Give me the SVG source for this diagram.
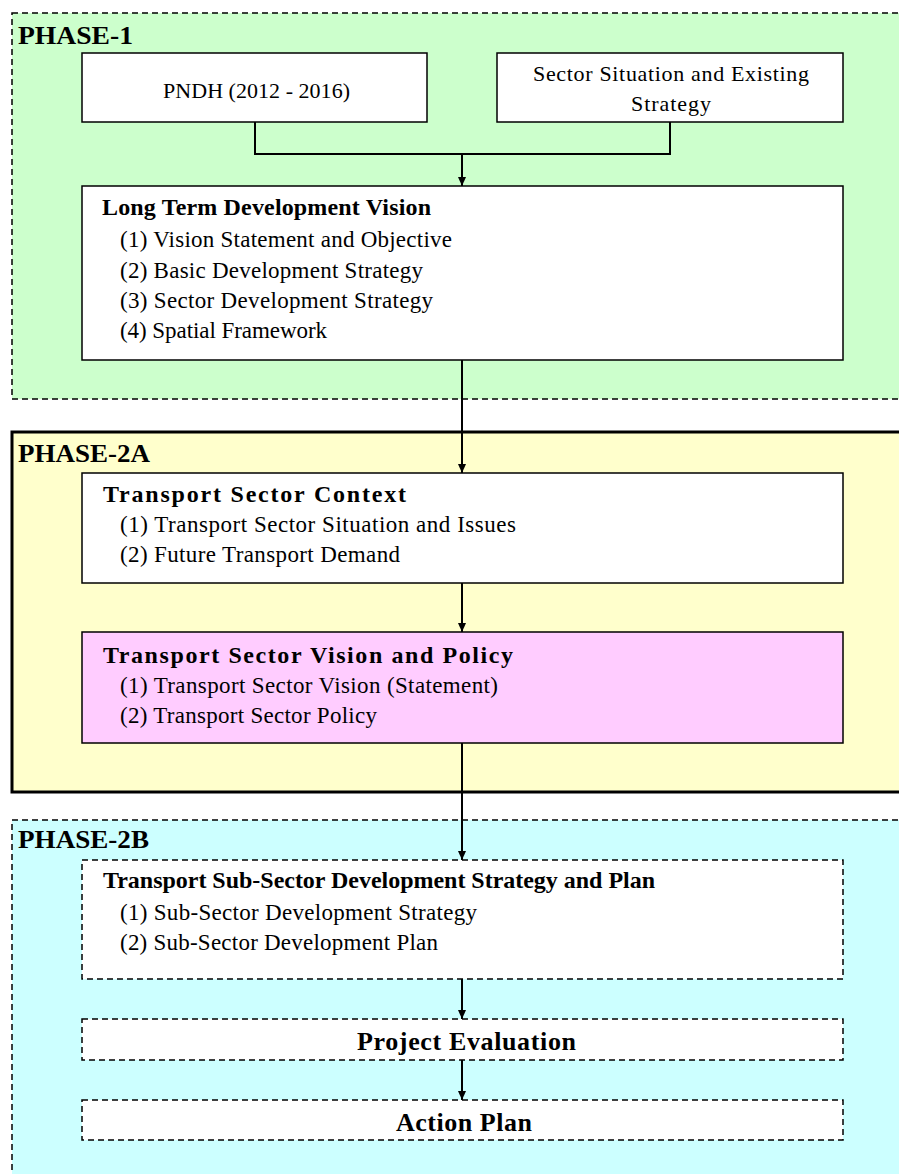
<svg xmlns="http://www.w3.org/2000/svg" width="899" height="1174" viewBox="0 0 899 1174">
<defs>
<marker id="ah" markerWidth="10" markerHeight="10" refX="9" refY="4.5" orient="auto" markerUnits="userSpaceOnUse">
<path d="M0,0.5 L9,4.5 L0,8.5 Z" fill="#000"/>
</marker>
<style>
.ph{font-family:"Liberation Serif",serif;font-weight:bold;font-size:26px;fill:#000}
.tt{font-family:"Liberation Serif",serif;font-weight:bold;font-size:24px;fill:#000}
.bt{font-family:"Liberation Serif",serif;font-weight:bold;font-size:26px;fill:#000}
.it{font-family:"Liberation Serif",serif;font-size:23px;fill:#000}
.sm{font-family:"Liberation Serif",serif;font-size:22px;fill:#000}
.box{fill:#fff;stroke:#000;stroke-width:1.5}
.dbox{fill:#fff;stroke:#000;stroke-width:1.5;stroke-dasharray:6,4}
.con{fill:none;stroke:#000;stroke-width:2}
</style>
</defs>
<g id="phase1">
<rect x="12" y="13" width="900" height="386" fill="#CCFFCC" stroke="#000" stroke-width="1.5" stroke-dasharray="6,4"/>
<text class="ph" x="18" y="44" textLength="115" lengthAdjust="spacingAndGlyphs">PHASE-1</text>
</g>
<g id="phase2a">
<rect x="12" y="432" width="900" height="360" fill="#FFFFCC" stroke="#000" stroke-width="3"/>
<text class="ph" x="18" y="462" textLength="132" lengthAdjust="spacingAndGlyphs">PHASE-2A</text>
</g>
<g id="phase2b">
<rect x="12" y="820" width="900" height="370" fill="#CCFFFF" stroke="#000" stroke-width="1.5" stroke-dasharray="6,4"/>
<text class="ph" x="18" y="848" textLength="131" lengthAdjust="spacingAndGlyphs">PHASE-2B</text>
</g>
<g id="pndh">
<rect class="box" x="82" y="53" width="345" height="69"/>
<text class="sm" x="163" y="98" textLength="187" lengthAdjust="spacing">PNDH (2012 - 2016)</text>
</g>
<g id="sector">
<rect class="box" x="497" y="53" width="346" height="69"/>
<text class="sm" x="533" y="81" textLength="276" lengthAdjust="spacing">Sector Situation and Existing</text>
<text class="sm" x="631" y="111" textLength="80" lengthAdjust="spacing">Strategy</text>
</g>
<g id="longterm">
<rect class="box" x="82" y="186" width="761" height="174"/>
<text class="tt" x="102" y="215" textLength="329" lengthAdjust="spacing">Long Term Development Vision</text>
<text class="it" x="120" y="247" textLength="332" lengthAdjust="spacing">(1) Vision Statement and Objective</text>
<text class="it" x="120" y="278" textLength="303" lengthAdjust="spacing">(2) Basic Development Strategy</text>
<text class="it" x="120" y="308" textLength="313" lengthAdjust="spacing">(3) Sector Development Strategy</text>
<text class="it" x="120" y="338" textLength="207" lengthAdjust="spacing">(4) Spatial Framework</text>
</g>
<g id="context">
<rect class="box" x="82" y="473" width="761" height="110"/>
<text class="tt" x="103" y="502" textLength="303" lengthAdjust="spacing">Transport Sector Context</text>
<text class="it" x="120" y="532" textLength="396" lengthAdjust="spacing">(1) Transport Sector Situation and Issues</text>
<text class="it" x="120" y="562" textLength="280" lengthAdjust="spacing">(2) Future Transport Demand</text>
</g>
<g id="vision">
<rect x="82" y="632" width="761" height="111" fill="#FFCCFF" stroke="#000" stroke-width="1.5"/>
<text class="tt" x="103" y="663" textLength="410" lengthAdjust="spacing">Transport Sector Vision and Policy</text>
<text class="it" x="120" y="693" textLength="378" lengthAdjust="spacing">(1) Transport Sector Vision (Statement)</text>
<text class="it" x="120" y="723" textLength="257" lengthAdjust="spacing">(2) Transport Sector Policy</text>
</g>
<g id="subsector">
<rect class="dbox" x="82" y="860" width="761" height="119"/>
<text class="tt" x="103" y="888" textLength="552" lengthAdjust="spacing">Transport Sub-Sector Development Strategy and Plan</text>
<text class="it" x="120" y="920" textLength="357" lengthAdjust="spacing">(1) Sub-Sector Development Strategy</text>
<text class="it" x="120" y="950" textLength="318" lengthAdjust="spacing">(2) Sub-Sector Development Plan</text>
</g>
<g id="evaluation">
<rect class="dbox" x="82" y="1019" width="761" height="41"/>
<text class="bt" x="357" y="1050" textLength="219" lengthAdjust="spacing">Project Evaluation</text>
</g>
<g id="actionplan">
<rect class="dbox" x="82" y="1100" width="761" height="40"/>
<text class="bt" x="396" y="1131" textLength="136" lengthAdjust="spacing">Action Plan</text>
</g>
<g id="connectors">
<path class="con" d="M255,122 V154 H670 V122"/>
<path class="con" d="M462,154 V186" marker-end="url(#ah)"/>
<path class="con" d="M462,360 V473" marker-end="url(#ah)"/>
<path class="con" d="M462,583 V632" marker-end="url(#ah)"/>
<path class="con" d="M462,743 V860" marker-end="url(#ah)"/>
<path class="con" d="M462,979 V1019" marker-end="url(#ah)"/>
<path class="con" d="M462,1060 V1100" marker-end="url(#ah)"/>
</g>
</svg>
